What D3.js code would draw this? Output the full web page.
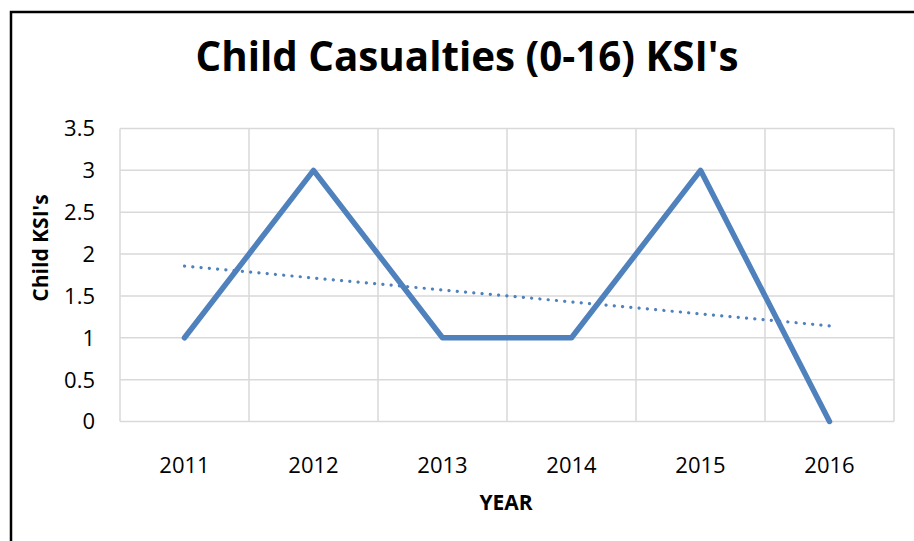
<!DOCTYPE html>
<html>
<head>
<meta charset="utf-8">
<script src="https://cdn.jsdelivr.net/npm/d3@7"></script>
<style>
  body { margin: 0; background: #fff; }
  text { font-family: "Open Sans", "Noto Sans", sans-serif; fill: #000; }
</style>
</head>
<body>
<div id="chart"></div>
<script>
const years = ["2011", "2012", "2013", "2014", "2015", "2016"];
const ksis = [1, 3, 1, 1, 3, 0];
const yTicks = [0, 0.5, 1, 1.5, 2, 2.5, 3, 3.5];

const width = 914, height = 541;
const margin = { top: 128.5, right: 20, bottom: 119.5, left: 120 };
const plotW = 894 - margin.left;
const plotH = 421.5 - margin.top;

const svg = d3.select("#chart").append("svg")
    .attr("width", width)
    .attr("height", height);

// outer frame
svg.append("rect")
    .attr("x", 11).attr("y", 12)
    .attr("width", 920).attr("height", 560)
    .attr("fill", "none")
    .attr("stroke", "#000")
    .attr("stroke-width", 2.5);

svg.append("text")
    .attr("x", 467).attr("y", 71)
    .attr("text-anchor", "middle")
    .attr("font-size", 41)
    .attr("font-weight", "bold")
    .attr("textLength", 543)
    .attr("lengthAdjust", "spacingAndGlyphs")
    .text("Child Casualties (0-16) KSI's");

const g = svg.append("g")
    .attr("transform", "translate(" + margin.left + "," + margin.top + ")");

const x = d3.scaleBand().domain(years).range([0, plotW]);
const y = d3.scaleLinear().domain([0, 3.5]).range([plotH, 0]);

// gridlines
g.selectAll(".hgrid").data(yTicks).enter().append("line")
    .attr("class", "hgrid")
    .attr("x1", 0).attr("x2", plotW)
    .attr("y1", d => y(d)).attr("y2", d => y(d))
    .attr("stroke", "#d9d9d9").attr("stroke-width", 1.5);

const vlines = years.map(d => x(d)).concat([plotW]);
g.selectAll(".vgrid").data(vlines).enter().append("line")
    .attr("class", "vgrid")
    .attr("x1", d => d).attr("x2", d => d)
    .attr("y1", 0).attr("y2", plotH)
    .attr("stroke", "#d9d9d9").attr("stroke-width", 1.5);

// y tick labels
g.selectAll(".ytick").data(yTicks).enter().append("text")
    .attr("class", "ytick")
    .attr("x", -25)
    .attr("y", d => y(d))
    .attr("dy", "0.36em")
    .attr("text-anchor", "end")
    .attr("font-size", 22)
    .text(d => d);

// x tick labels
g.selectAll(".xtick").data(years).enter().append("text")
    .attr("class", "xtick")
    .attr("x", d => x(d) + x.bandwidth() / 2)
    .attr("y", plotH + 51)
    .attr("text-anchor", "middle")
    .attr("font-size", 22)
    .text(d => d);

svg.append("text")
    .attr("x", margin.left + plotW / 2 - 1)
    .attr("y", 510)
    .attr("text-anchor", "middle")
    .attr("font-size", 21)
    .attr("font-weight", "bold")
    .text("YEAR");

svg.append("text")
    .attr("transform", "translate(48,248) rotate(-90)")
    .attr("text-anchor", "middle")
    .attr("font-size", 21)
    .attr("font-weight", "bold")
    .text("Child KSI's");

const cx = d => x(d) + x.bandwidth() / 2;

// linear trendline
const n = ksis.length;
const xs = d3.range(1, n + 1);
const mx = d3.mean(xs), my = d3.mean(ksis);
const slope = d3.sum(xs, (v, i) => (v - mx) * (ksis[i] - my)) / d3.sum(xs, v => (v - mx) * (v - mx));
const trend = [1, n].map(v => ({ year: years[v - 1], val: my + slope * (v - mx) }));

g.append("path")
    .datum(trend)
    .attr("fill", "none")
    .attr("stroke", "#4f81bd")
    .attr("stroke-width", 3.2)
    .attr("stroke-linecap", "round")
    .attr("stroke-dasharray", "0.1 8.2")
    .attr("d", d3.line().x(d => cx(d.year)).y(d => y(d.val)));

// data line
g.append("path")
    .datum(years.map((d, i) => ({ year: d, val: ksis[i] })))
    .attr("fill", "none")
    .attr("stroke", "#4f81bd")
    .attr("stroke-width", 5.5)
    .attr("stroke-linejoin", "round")
    .attr("stroke-linecap", "round")
    .attr("d", d3.line().x(d => cx(d.year)).y(d => y(d.val)));
</script>
</body>
</html>
